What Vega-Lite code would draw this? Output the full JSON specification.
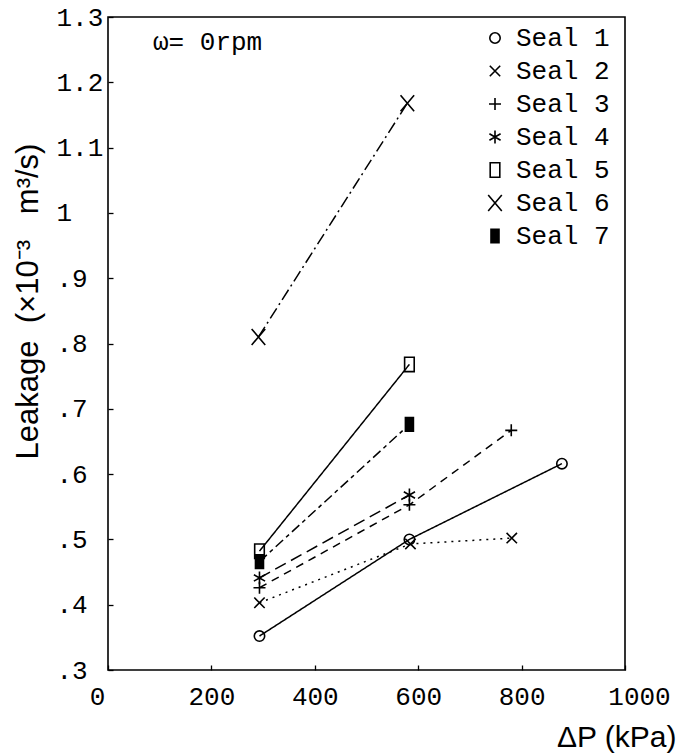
{
  "$schema": "https://vega.github.io/schema/vega-lite/v6.json",
  "autosize": "none",
  "width": 517,
  "height": 653,
  "padding": {"left": 108, "top": 17, "right": 51, "bottom": 84},
  "background": "white",
  "datasets": {
    "seals": [
      {"seal": "Seal 1", "dp": 293, "leak": 0.352},
      {"seal": "Seal 1", "dp": 583, "leak": 0.500},
      {"seal": "Seal 1", "dp": 878, "leak": 0.616},
      {"seal": "Seal 2", "dp": 293, "leak": 0.403},
      {"seal": "Seal 2", "dp": 585, "leak": 0.493},
      {"seal": "Seal 2", "dp": 781, "leak": 0.502},
      {"seal": "Seal 3", "dp": 293, "leak": 0.426},
      {"seal": "Seal 3", "dp": 583, "leak": 0.553},
      {"seal": "Seal 3", "dp": 780, "leak": 0.667},
      {"seal": "Seal 4", "dp": 293, "leak": 0.441},
      {"seal": "Seal 4", "dp": 583, "leak": 0.568},
      {"seal": "Seal 5", "dp": 293, "leak": 0.482},
      {"seal": "Seal 5", "dp": 583, "leak": 0.768},
      {"seal": "Seal 6", "dp": 291, "leak": 0.810},
      {"seal": "Seal 6", "dp": 579, "leak": 1.168},
      {"seal": "Seal 7", "dp": 293, "leak": 0.466},
      {"seal": "Seal 7", "dp": 583, "leak": 0.676}
    ],
    "note": [
      {"dp": 87, "leak": 1.262, "label": "ω= 0rpm"}
    ]
  },
  "data": {"name": "seals"},
  "encoding": {
    "x": {
      "field": "dp", "type": "quantitative",
      "scale": {"domain": [0, 1000], "nice": false, "zero": false},
      "axis": {
        "values": [0, 200, 400, 600, 800, 1000],
        "format": "d",
        "title": "ΔP (kPa)",
        "titleFont": "Liberation Sans", "titleFontSize": 30, "titleFontWeight": "normal",
        "titleAnchor": "end", "titleAlign": "right", "titleBaseline": "middle",
        "titleX": 568, "titleY": 67,
        "labelFont": "Liberation Mono", "labelFontSize": 26, "labelColor": "black",
        "labelPadding": 18,
        "labelOffset": {"condition": [{"test": "datum.value == 0", "value": -11}, {"test": "datum.value == 1000", "value": 14}], "value": 0},
        "labelAlign": "center",
        "labelBaseline": "top",
        "labelOverlap": false,
        "labelFlush": false,
        "domain": false, "grid": false,
        "tickSize": -5, "tickColor": "black", "tickWidth": 1.3
      }
    },
    "y": {
      "field": "leak", "type": "quantitative",
      "scale": {"domain": [0.3, 1.3], "nice": false, "zero": false},
      "axis": {
        "values": [0.3, 0.4, 0.5, 0.6, 0.7, 0.8, 0.9, 1.0, 1.1, 1.2, 1.3],
        "labelExpr": "abs(datum.value - 1) < 0.001 ? '1' : (datum.value > 1 ? format(datum.value, '.1f') : replace(format(datum.value, '.1f'), '0.', '.'))",
        "title": "Leakage\u00a0\u00a0(×10⁻³\u00a0\u00a0\u00a0m³/s)",
        "titleFont": "Liberation Sans", "titleFontSize": 31, "titleFontWeight": "normal",
        "titleAngle": -90, "titleBaseline": "middle", "titleAlign": "center",
        "titleX": -80, "titleY": 284,
        "labelFont": "Liberation Mono", "labelFontSize": 26, "labelColor": "black",
        "labelAlign": "left", "labelBaseline": "middle",
        "labelPadding": 57,
        "labelOverlap": false,
        "labelFlush": false,
        "domain": false, "grid": false,
        "tickSize": -5, "tickColor": "black", "tickWidth": 1.3
      }
    }
  },
  "layer": [
    {
      "mark": {"type": "line", "color": "black", "strokeWidth": 1.5},
      "encoding": {
        "detail": {"field": "seal"},
        "strokeDash": {
          "field": "seal", "type": "nominal",
          "scale": {
            "range": [[1, 0], [2, 5], [8, 6], [12, 6], [1, 0], [12, 4, 2, 4], [10, 4, 4, 4]]
          },
          "legend": null
        }
      }
    },
    {
      "mark": {"type": "point", "filled": false, "color": "black", "strokeWidth": 1.6, "size": 256, "opacity": 1},
      "encoding": {
        "shape": {
          "field": "seal", "type": "nominal",
          "scale": {
            "domain": ["Seal 1", "Seal 2", "Seal 3", "Seal 4", "Seal 5", "Seal 6", "Seal 7"],
            "range": [
              "M0.65,0A0.65,0.65,0,1,1,-0.65,0A0.65,0.65,0,1,1,0.65,0Z",
              "M-0.65,-0.65L0.65,0.65M-0.65,0.65L0.65,-0.65",
              "M-0.75,0L0.75,0M0,-0.75L0,0.75",
              "M0,-0.8L0,0.8M-0.7,-0.4L0.7,0.4M-0.7,0.4L0.7,-0.4",
              "M-0.6,-0.9L0.6,-0.9L0.6,0.9L-0.6,0.9Z",
              "M-0.85,-1L0.85,1M-0.85,1L0.85,-1",
              "M-0.5,-0.85L0.5,-0.85L0.5,0.85L-0.5,0.85Z"
            ]
          },
          "legend": {
            "title": null, "orient": "none", "legendX": 374, "legendY": 8,
            "labelFont": "Liberation Mono", "labelFontSize": 26, "labelColor": "black",
            "labelOffset": 8, "rowPadding": 7, "padding": 0,
            "symbolSize": 256, "symbolStrokeWidth": 1.6, "symbolStrokeColor": "black",
            "symbolFillColor": "transparent",
            "symbolOpacity": 1,
            "encoding": {
              "symbols": {
                "fill": {"condition": {"test": "datum.value === 'Seal 7'", "value": "black"}, "value": "transparent"},
                "stroke": {"value": "black"},
                "strokeWidth": {"value": 1.6}
              }
            }
          }
        },
        "fill": {
          "field": "seal", "type": "nominal",
          "scale": {
            "range": ["transparent", "transparent", "transparent", "transparent", "transparent", "transparent", "black"]
          },
          "legend": null
        }
      }
    },
    {
      "data": {"name": "note"},
      "mark": {"type": "text", "align": "left", "baseline": "middle", "font": "Liberation Mono", "fontSize": 26, "color": "black"},
      "encoding": {
        "text": {"field": "label"}
      }
    }
  ],
  "config": {
    "view": {"stroke": "black", "strokeWidth": 1.6},
    "axis": {"labelColor": "black"}
  }
}
